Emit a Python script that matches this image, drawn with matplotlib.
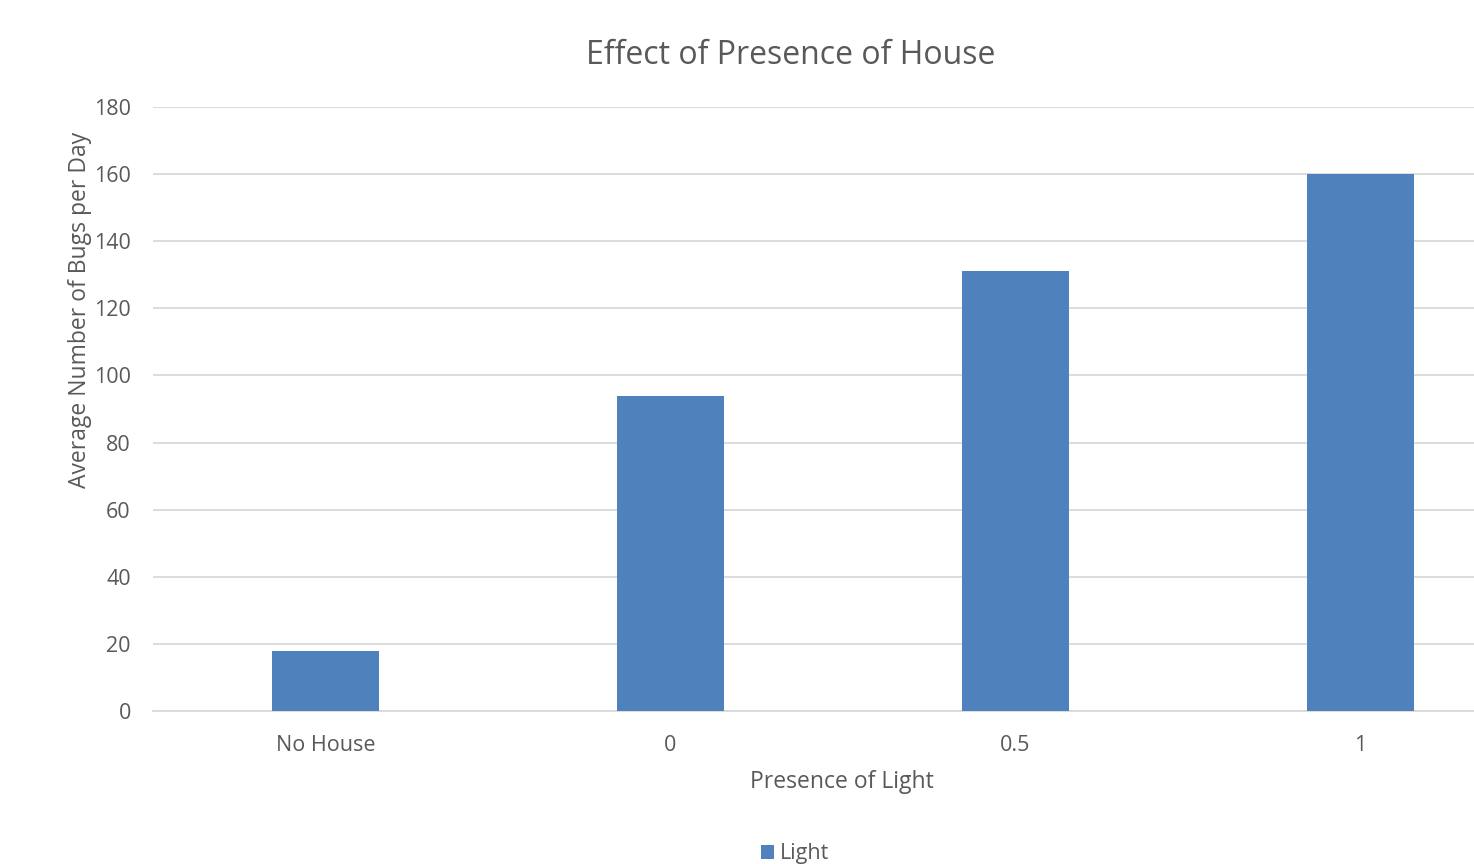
import matplotlib.pyplot as plt
import numpy as np

plt.rcParams['font.family'] = ['Open Sans', 'DejaVu Sans']

# Bug counts
categories = ['No House', '0', '0.5', '1']
bugs = [18, 94, 131, 160]
yticks = [0, 20, 40, 60, 80, 100, 120, 140, 160, 180]

txt = '#595959'
blue = '#4F81BD'
grid = '#D9D9D9'

fig = plt.figure(figsize=(14.74, 8.64), dpi=100)
# axes runs past the right edge, like the cropped original
ax = fig.add_axes([153/1474, 153/864, 1380/1474, 604/864])

x = np.arange(len(categories))
ax.bar(x, bugs, width=0.313, color=blue, label='Light', zorder=3)

ax.set_xlim(-0.5, 3.5)
ax.set_ylim(0, 180)
ax.set_yticks(yticks)
ax.set_xticks(x)
ax.set_xticklabels(categories)
ax.grid(axis='y', color=grid, linewidth=1.3, zorder=0)
for s in ['top', 'right', 'left']:
    ax.spines[s].set_visible(False)
ax.spines['bottom'].set_color(grid)
ax.spines['bottom'].set_linewidth(1.3)
ax.tick_params(axis='both', length=0, labelsize=15.5, colors=txt)
ax.tick_params(axis='y', pad=16)
ax.tick_params(axis='x', pad=17)

fig.text(791/1474, 1 - 55/864, 'Effect of Presence of House', ha='center', va='center',
         fontsize=23, color=txt)
fig.text(842/1474, 1 - 782/864, 'Presence of Light', ha='center', va='center',
         fontsize=16.5, color=txt)
fig.text(80/1474, 1 - 310/864, 'Average Number of Bugs per Day', ha='center', va='center',
         rotation=90, fontsize=16.5, color=txt)

leg = ax.legend(loc='center', bbox_to_anchor=(795/1474, 1 - 854/864),
                bbox_transform=fig.transFigure, frameon=False, fontsize=15.5,
                handlelength=0.6, handleheight=0.6, handletextpad=0.3)
for t in leg.get_texts():
    t.set_color(txt)

plt.savefig('out.png', dpi=100)
